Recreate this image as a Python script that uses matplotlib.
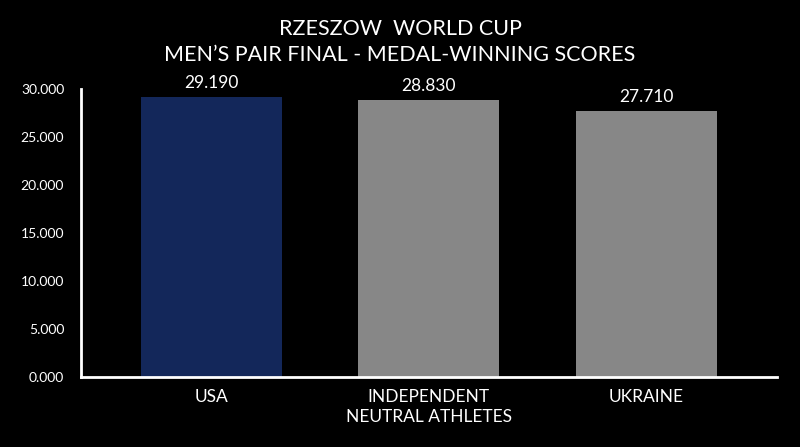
import matplotlib.pyplot as plt
import numpy as np

countries = ['USA', 'INDEPENDENT\nNEUTRAL ATHLETES', 'UKRAINE']
scores = [29.190, 28.830, 27.710]
bar_colors = ['#13275a', '#878787', '#878787']
yticks = [0, 5, 10, 15, 20, 25, 30]

plt.rcParams['font.family'] = ['Lato', 'DejaVu Sans']

fig = plt.figure(figsize=(8, 4.47), dpi=100, facecolor='black')
ax = fig.add_axes([0.101, 0.157, 0.87, 0.644], facecolor='black')

x = np.arange(len(countries))
ax.bar(x, scores, width=0.65, color=bar_colors)

for xi, s in zip(x, scores):
    ax.text(xi, s + 0.6, '%.3f' % s, ha='center', va='bottom',
            color='white', fontsize=12.5)

ax.set_xlim(-0.6, 2.6)
ax.set_ylim(0, 30)
ax.set_yticks(yticks)
ax.set_yticklabels(['%.3f' % t for t in yticks])
ax.set_xticks(x)
ax.set_xticklabels(countries, fontsize=12.5, linespacing=1.25)

ax.tick_params(axis='y', length=0, pad=12, colors='white', labelsize=10)
ax.tick_params(axis='x', length=0, pad=9, colors='white')

for side in ['top', 'right']:
    ax.spines[side].set_visible(False)
for side in ['left', 'bottom']:
    ax.spines[side].set_color('white')
    ax.spines[side].set_linewidth(2)

fig.text(0.5, 0.935, 'RZESZOW  WORLD CUP', ha='center', va='center',
         color='white', fontsize=15.5)
fig.text(0.5, 0.876, 'MEN\u2019S PAIR FINAL - MEDAL-WINNING SCORES',
         ha='center', va='center', color='white', fontsize=15.5)

fig.savefig('out.png', dpi=100, facecolor='black')
